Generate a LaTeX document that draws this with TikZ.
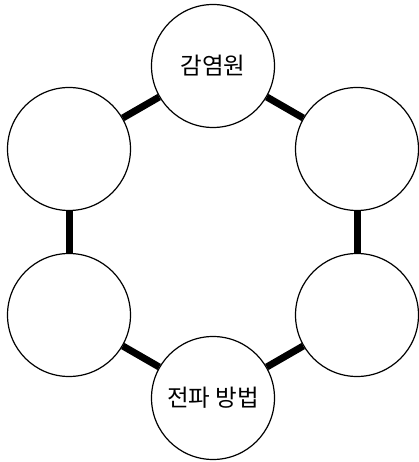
\documentclass[tikz,border=0pt]{standalone}
\usepackage{fontspec}
\newfontfamily\krfont{Noto Sans CJK KR}
\usetikzlibrary{positioning}

\begin{document}
\begin{tikzpicture}[
  x=1pt, y=1pt,
  font=\krfont\fontsize{23.5}{28}\selectfont,
  stage/.style={draw, circle, line width=1.2pt, fill=white, minimum size=123pt, inner sep=0pt},
  link/.style={line width=7pt}
]
\useasboundingbox (0,0) rectangle (418,462);

\node[stage] (source) at (213,396) {감염원};
\node[stage] (upright) at (357,313) {};
\node[stage] (lowright) at (357,147) {};
\node[stage] (route) at (213,64) {전파 방법};
\node[stage] (lowleft) at (69,147) {};
\node[stage] (upleft) at (69,313) {};

\draw[link] (source) -- (upright);
\draw[link] (upright) -- (lowright);
\draw[link] (lowright) -- (route);
\draw[link] (route) -- (lowleft);
\draw[link] (lowleft) -- (upleft);
\draw[link] (upleft) -- (source);
\end{tikzpicture}
\end{document}
